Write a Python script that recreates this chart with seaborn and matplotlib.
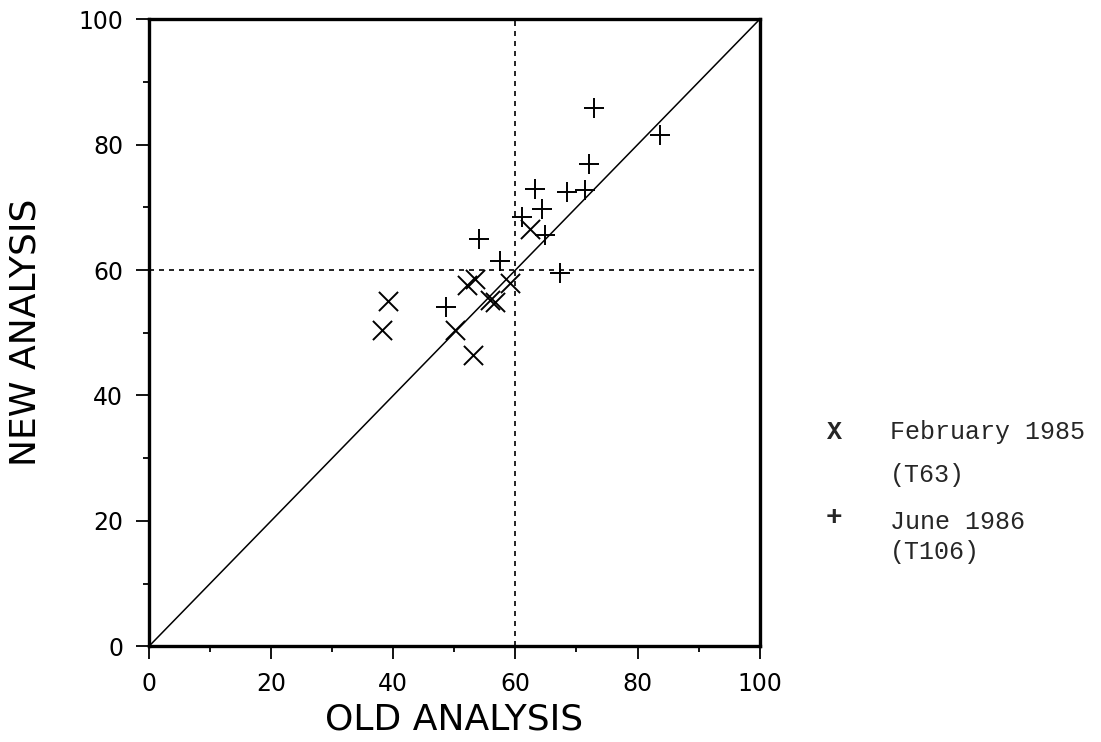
import pandas as pd
import matplotlib
matplotlib.use("Agg")
import matplotlib.pyplot as plt
import seaborn as sns

# Data
feb_old = [38.1, 39.2, 50.1, 53.1, 52.0, 53.4, 55.8, 56.6, 59.1, 62.4]
feb_new = [50.5, 55.0, 50.4, 46.4, 57.6, 58.5, 55.2, 54.9, 57.9, 66.5]

jun_old = [72.9, 83.6, 72.0, 63.2, 68.4, 71.4, 64.3, 61.1, 64.9, 54.0, 57.4, 67.3, 48.7]
jun_new = [85.9, 81.5, 76.9, 73.0, 72.5, 72.8, 69.8, 68.5, 65.6, 64.9, 61.4, 59.6, 54.1]

ticks = [0, 20, 40, 60, 80, 100]
minor_ticks = [10, 30, 50, 70, 90]

feb = pd.DataFrame({"old": feb_old, "new": feb_new})
jun = pd.DataFrame({"old": jun_old, "new": jun_new})

sns.set_style("ticks")
plt.rcParams["font.family"] = ["DejaVu Sans"]

fig = plt.figure(figsize=(11.01, 7.42), dpi=100)
ax = fig.add_axes([0.1353, 0.129, 0.5547, 0.845])

# reference lines
ax.plot([0, 100], [0, 100], color="black", lw=1.1)
ax.axvline(60, color="black", lw=1.2, ls=(0, (3, 3)))
ax.axhline(60, color="black", lw=1.2, ls=(0, (3, 3)))

sns.scatterplot(data=feb, x="old", y="new", marker="x", s=190, color="black",
                linewidth=1.4, ax=ax, zorder=3)
sns.scatterplot(data=jun, x="old", y="new", marker="+", s=190, color="black",
                linewidth=1.4, ax=ax, zorder=3)

ax.set_xlim(0, 100)
ax.set_ylim(0, 100)
ax.set_xticks(ticks)
ax.set_yticks(ticks)
ax.set_xticks(minor_ticks, minor=True)
ax.set_yticks(minor_ticks, minor=True)
ax.tick_params(which="major", direction="out", length=9.5, width=1.3,
               labelsize=17, pad=9, color="black", labelcolor="black")
ax.tick_params(which="minor", direction="out", length=4, width=1.3, color="black")
for sp in ax.spines.values():
    sp.set_visible(True)
    sp.set_linewidth(2.4)
    sp.set_color("black")

ax.set_xlabel("OLD ANALYSIS", fontsize=26, labelpad=5, color="black")
ax.set_ylabel("NEW ANALYSIS", fontsize=26, labelpad=26, color="black")

# legend written as text, like the original
mono = ["Liberation Mono", "DejaVu Sans Mono"]
fs = 18
fig.text(0.758, 0.418, "X", family=mono, fontsize=fs, fontweight="bold",
         ha="center", va="center")
fig.text(0.808, 0.418, "February 1985", family=mono, fontsize=fs, va="center")
fig.text(0.808, 0.360, "(T63)", family=mono, fontsize=fs, va="center")
fig.text(0.757, 0.302, "+", family=mono, fontsize=fs + 2, fontweight="bold",
         ha="center", va="center")
fig.text(0.808, 0.2965, "June 1986", family=mono, fontsize=fs, va="center")
fig.text(0.808, 0.256, "(T106)", family=mono, fontsize=fs, va="center")

fig.savefig("out.png", dpi=100)
